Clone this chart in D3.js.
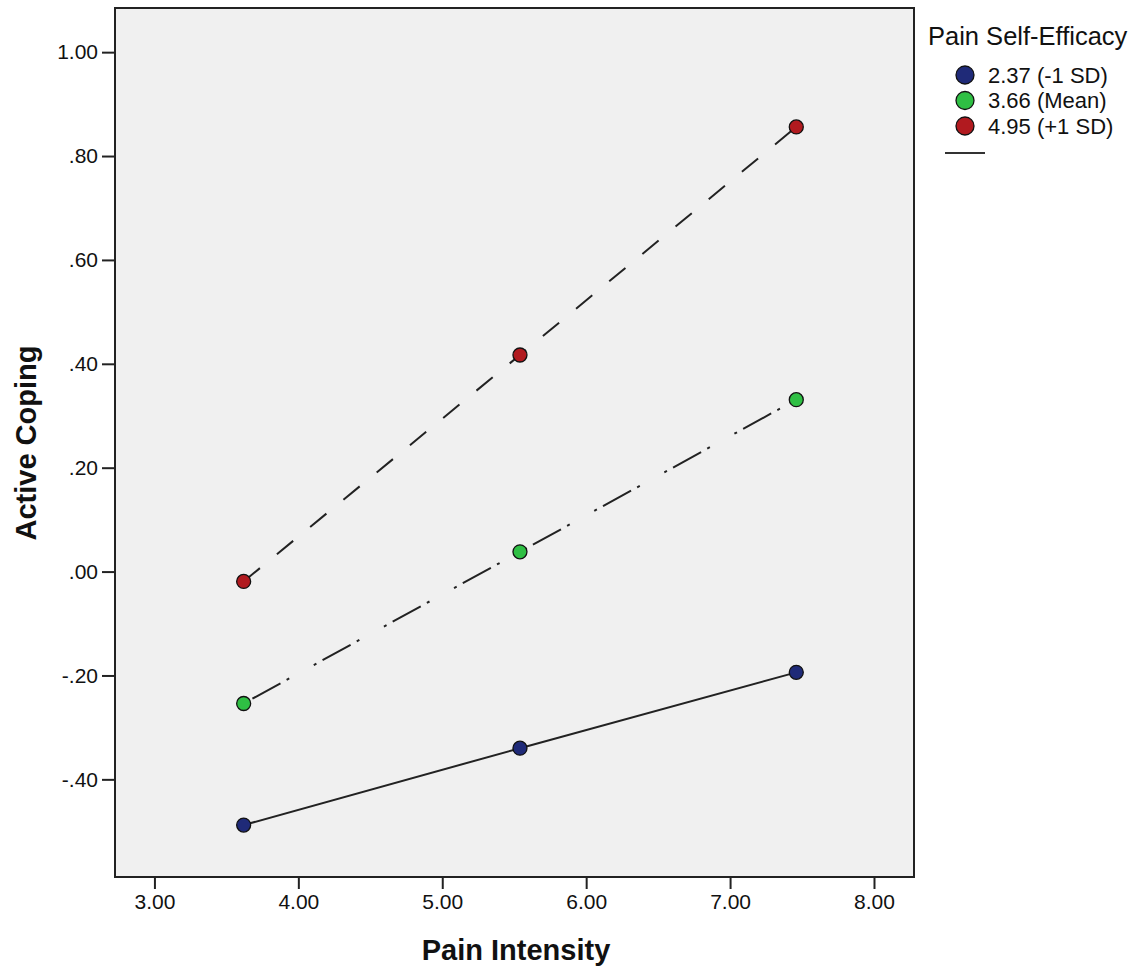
<!DOCTYPE html>
<html>
<head>
<meta charset="utf-8">
<script src="https://cdn.jsdelivr.net/npm/d3@7"></script>
<style>
  body { margin: 0; background: #fff; }
  text { font-family: "Liberation Sans", Arial, sans-serif; fill: #111; }
</style>
</head>
<body>
<svg id="chart" width="1133" height="968"></svg>
<script>
// data
const painIntensity = [3.62, 5.54, 7.46];
const groups = ["2.37 (-1 SD)", "3.66 (Mean)", "4.95 (+1 SD)"];
const lowEfficacy = [-0.488, -0.340, -0.194];
const meanEfficacy = [-0.254, 0.038, 0.331];
const highEfficacy = [-0.019, 0.417, 0.856];
const xTicks = [3, 4, 5, 6, 7, 8];
const yTicks = [-0.4, -0.2, 0, 0.2, 0.4, 0.6, 0.8, 1.0];

const series = [
    {name: groups[0], values: lowEfficacy, fill: "#1f2a78", dash: null},
    {name: groups[1], values: meanEfficacy, fill: "#2fbf44", dash: "3,7,32,7,3,28"},
    {name: groups[2], values: highEfficacy, fill: "#b11a1f", dash: "21,22"}
];

const svg = d3.select("#chart");
const plot = {left: 115, right: 914, top: 8, bottom: 877};

const x = d3.scaleLinear().domain([2.726, 8.278]).range([plot.left, plot.right]);
const y = d3.scaleLinear().domain([-0.588, 1.085]).range([plot.bottom, plot.top]);

// SPSS style: no leading zero, plain hyphen for minus
const fmt = v => {
    let s = d3.format(".2f")(v).replace("\u2212", "-");
    return s.replace(/^(-?)0\./, "$1.");
};

svg.append('rect')
    .attr('x', plot.left)
    .attr('y', plot.top)
    .attr('width', plot.right - plot.left)
    .attr('height', plot.bottom - plot.top)
    .attr('fill', "#f0f0f0");

let xAxis = svg.append('g')
    .attr("transform", "translate(0," + plot.bottom + ")")
    .call(d3.axisBottom(x).tickValues(xTicks).tickFormat(fmt).tickSize(12).tickPadding(5));
let yAxis = svg.append('g')
    .attr("transform", "translate(" + plot.left + ",0)")
    .call(d3.axisLeft(y).tickValues(yTicks).tickFormat(fmt).tickSize(13).tickPadding(4));

for (let ax of [xAxis, yAxis]) {
    ax.select('.domain').remove();
    ax.selectAll('line').attr('stroke', "#222").attr('stroke-width', 2);
    ax.selectAll('text').attr('font-size', 21).attr('fill', "#1a1a1a")
        .style('font-family', "'Liberation Sans', Arial, sans-serif");
}

// frame
svg.append('rect')
    .attr('x', plot.left)
    .attr('y', plot.top)
    .attr('width', plot.right - plot.left)
    .attr('height', plot.bottom - plot.top)
    .attr('fill', "none")
    .attr('stroke', "#222")
    .attr('stroke-width', 2);

const line = d3.line()
    .x((d, i) => x(painIntensity[i]))
    .y(d => y(d));

for (let s of series) {
    svg.append('path')
        .datum(s.values)
        .attr('d', line)
        .attr('fill', "none")
        .attr('stroke', "#222")
        .attr('stroke-width', 2)
        .attr('stroke-dasharray', s.dash);

    svg.selectAll(null)
        .data(s.values)
        .enter()
        .append('circle')
        .attr('cx', (d, i) => x(painIntensity[i]))
        .attr('cy', d => y(d))
        .attr('r', 7)
        .attr('fill', s.fill)
        .attr('stroke', "#111")
        .attr('stroke-width', 1.3);
}

// axis titles
svg.append('text')
    .attr('x', 516)
    .attr('y', 960)
    .attr('text-anchor', "middle")
    .attr('font-size', 29)
    .attr('font-weight', "bold")
    .text("Pain Intensity");

svg.append('text')
    .attr('transform', "translate(36,443) rotate(-90)")
    .attr('text-anchor', "middle")
    .attr('font-size', 29)
    .attr('font-weight', "bold")
    .text("Active Coping");

// legend
let legend = svg.append('g');
legend.append('text')
    .attr('x', 928)
    .attr('y', 45)
    .attr('font-size', 25.5)
    .text("Pain Self-Efficacy");

let items = legend.selectAll('g.item')
    .data(series)
    .enter()
    .append('g')
    .attr('class', "item")
    .attr("transform", (d, i) => "translate(0," + (75 + i * 25.5) + ")");

items.append('circle')
    .attr('cx', 965)
    .attr('r', 9)
    .attr('fill', d => d.fill)
    .attr('stroke', "#111")
    .attr('stroke-width', 1.3);

items.append('text')
    .attr('x', 988)
    .attr('y', 7.5)
    .attr('font-size', 22)
    .text(d => d.name);

legend.append('line')
    .attr('x1', 945)
    .attr('x2', 985)
    .attr('y1', 153)
    .attr('y2', 153)
    .attr('stroke', "#333")
    .attr('stroke-width', 2);
</script>
</body>
</html>
